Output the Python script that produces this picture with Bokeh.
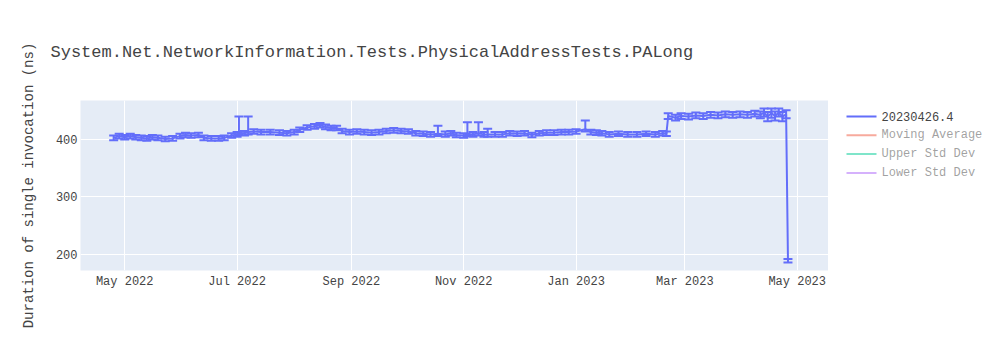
import pandas as pd
from bokeh.plotting import figure
from bokeh.layouts import row
from bokeh.core.properties import value
from bokeh.models import (ColumnDataSource, Range1d, FixedTicker, DatetimeTickFormatter,
                          Whisker, TeeHead)
from bokeh.embed import file_html
from bokeh.resources import INLINE

title_text = "System.Net.NetworkInformation.Tests.PhysicalAddressTests.PALong"
y_title = "Duration of single invocation (ns)"
series_names = ["20230426.4", "Moving Average", "Upper Std Dev", "Lower Std Dev"]
series_colors = ["#636efa", "#EF553B", "#00cc96", "#ab63fa"]
series_shown = [True, False, False, False]

dates = [
    "2022-04-25", "2022-04-28", "2022-05-01", "2022-05-04", "2022-05-07", "2022-05-10",
    "2022-05-13", "2022-05-16", "2022-05-19", "2022-05-23", "2022-05-27", "2022-05-31",
    "2022-06-03", "2022-06-06", "2022-06-10", "2022-06-13", "2022-06-17", "2022-06-21",
    "2022-06-24", "2022-06-28", "2022-07-01", "2022-07-02", "2022-07-05", "2022-07-07",
    "2022-07-10", "2022-07-14", "2022-07-19", "2022-07-24", "2022-07-28", "2022-08-01",
    "2022-08-04", "2022-08-08", "2022-08-12", "2022-08-15", "2022-08-18", "2022-08-21",
    "2022-08-24", "2022-08-27", "2022-08-31", "2022-09-04", "2022-09-08", "2022-09-12",
    "2022-09-16", "2022-09-20", "2022-09-24", "2022-09-28", "2022-10-02", "2022-10-06",
    "2022-10-10", "2022-10-14", "2022-10-18", "2022-10-22", "2022-10-25", "2022-10-28",
    "2022-11-01", "2022-11-03", "2022-11-06", "2022-11-09", "2022-11-12", "2022-11-14",
    "2022-11-18", "2022-11-22", "2022-11-26", "2022-11-30", "2022-12-04", "2022-12-08",
    "2022-12-12", "2022-12-16", "2022-12-20", "2022-12-24", "2022-12-28", "2023-01-01",
    "2023-01-06", "2023-01-09", "2023-01-12", "2023-01-15", "2023-01-19", "2023-01-24",
    "2023-01-29", "2023-02-03", "2023-02-08", "2023-02-13", "2023-02-17", "2023-02-19",
    "2023-02-20", "2023-02-24", "2023-02-27", "2023-03-03", "2023-03-07", "2023-03-11",
    "2023-03-15", "2023-03-19", "2023-03-23", "2023-03-27", "2023-03-31", "2023-04-04",
    "2023-04-08", "2023-04-11", "2023-04-13", "2023-04-15", "2023-04-17", "2023-04-19",
    "2023-04-21", "2023-04-23", "2023-04-25", "2023-04-26",
]
values = [
    403, 406, 404, 406, 404, 403,
    402, 404, 403, 401, 402, 406,
    408, 407, 408, 403, 402, 402,
    403, 407, 409, 412, 411, 413,
    414, 413, 413, 412, 411, 413,
    417, 421, 423, 425, 422, 420,
    420, 415, 413, 414, 413, 412,
    413, 415, 416, 415, 414, 411,
    410, 409, 410, 409, 411, 408,
    407, 410, 409, 411, 409, 409,
    409, 409, 411, 410, 411, 408,
    411, 412, 412, 413, 413, 414,
    418, 413, 412, 411, 409, 410,
    409, 409, 410, 409, 411, 410,
    441, 438, 441, 440, 442, 441,
    443, 442, 444, 443, 444, 443,
    445, 443, 447, 440, 446, 441,
    447, 440, 444, 189,
]
err_up = [
    4, 4, 4, 4, 4, 4,
    4, 4, 4, 4, 4, 4,
    4, 4, 4, 4, 4, 4,
    4, 4, 4, 28, 4, 27,
    4, 4, 4, 4, 4, 4,
    4, 4, 4, 4, 4, 4,
    4, 4, 4, 4, 4, 4,
    4, 4, 4, 4, 4, 4,
    4, 4, 14, 5, 4, 4,
    4, 20, 4, 19, 4, 10,
    4, 4, 4, 4, 4, 4,
    4, 4, 4, 4, 4, 4,
    15, 4, 4, 4, 4, 4,
    4, 4, 4, 4, 4, 4,
    5, 5, 5, 5, 5, 5,
    5, 5, 5, 5, 5, 5,
    5, 6, 7, 8, 8, 8,
    7, 8, 7, 3,
]
err_down = [
    4, 4, 4, 4, 4, 4,
    4, 4, 4, 4, 4, 4,
    4, 4, 4, 4, 4, 4,
    4, 4, 4, 4, 4, 4,
    4, 4, 4, 4, 4, 4,
    4, 4, 4, 4, 4, 4,
    4, 4, 4, 4, 4, 4,
    4, 4, 4, 4, 4, 4,
    4, 4, 4, 4, 4, 4,
    4, 4, 4, 4, 4, 4,
    4, 4, 4, 4, 4, 4,
    4, 4, 4, 4, 4, 4,
    4, 4, 4, 4, 4, 4,
    4, 4, 4, 4, 4, 4,
    5, 5, 5, 5, 5, 5,
    5, 5, 5, 5, 5, 5,
    5, 6, 7, 8, 8, 8,
    7, 8, 7, 3,
]
x_ticks = ["2022-05-01", "2022-07-01", "2022-09-01", "2022-11-01",
           "2023-01-01", "2023-03-01", "2023-05-01"]
y_ticks = [200, 300, 400]

FONT = "Liberation Mono"
TXT = "#444444"
BLUE = series_colors[0]

x = pd.to_datetime(dates)
src = ColumnDataSource(dict(
    x=x, y=values,
    upper=[v + e for v, e in zip(values, err_up)],
    lower=[v - e for v, e in zip(values, err_down)],
))

p = figure(width=828, height=350, x_axis_type="datetime", output_backend="svg",
           toolbar_location=None,
           x_range=Range1d(pd.Timestamp("2022-04-07"), pd.Timestamp("2023-05-18")),
           y_range=Range1d(172, 468),
           min_border_left=80, min_border_right=0, min_border_top=100, min_border_bottom=80)
p.background_fill_color = "#E5ECF6"
p.border_fill_color = "white"
p.outline_line_color = None

p.title.text = title_text
p.title.text_font = FONT
p.title.text_font_size = "17px"
p.title.text_font_style = "normal"
p.title.text_color = TXT
p.title.offset = -30
p.title.standoff = 78

p.line("x", "y", source=src, line_color=BLUE, line_width=2)
wh = Whisker(source=src, base="x", upper="upper", lower="lower",
             line_color=BLUE, line_width=2,
             upper_head=TeeHead(size=9, line_color=BLUE, line_width=2),
             lower_head=TeeHead(size=9, line_color=BLUE, line_width=2))
p.add_layout(wh)

for ax in (p.xaxis[0], p.yaxis[0]):
    ax.axis_line_color = None
    ax.major_tick_line_color = None
    ax.minor_tick_line_color = None
    ax.major_tick_out = 0
    ax.major_tick_in = 0
    ax.minor_tick_out = 0
    ax.minor_tick_in = 0
    ax.major_label_text_font = FONT
    ax.major_label_text_font_size = "12px"
    ax.major_label_text_color = TXT

p.xaxis.ticker = FixedTicker(ticks=[pd.Timestamp(t).value // 10**6 for t in x_ticks])
fmt = "%b %Y"
p.xaxis.formatter = DatetimeTickFormatter(years=fmt, months=fmt, days=fmt, hours=fmt,
                                          minutes=fmt, seconds=fmt, milliseconds=fmt)
p.xaxis.major_label_standoff = 4
p.yaxis.ticker = FixedTicker(ticks=y_ticks)
p.yaxis.major_label_standoff = 3
p.yaxis.axis_label = y_title
p.yaxis.axis_label_text_font = FONT
p.yaxis.axis_label_text_font_size = "14px"
p.yaxis.axis_label_text_font_style = "normal"
p.yaxis.axis_label_text_color = TXT
p.yaxis.axis_label_standoff = 16

p.xgrid.grid_line_color = "white"
p.ygrid.grid_line_color = "white"
p.xgrid.grid_line_width = 1
p.ygrid.grid_line_width = 1

# legend panel on the right; its frame is aligned with the main plot area (y 100..270),
# so a flipped range gives page-pixel units
LW = 172
leg = figure(width=LW, height=350, output_backend="svg", toolbar_location=None,
             x_range=Range1d(0, LW), y_range=Range1d(270, 100),
             x_axis_location=None, y_axis_location=None,
             min_border_left=0, min_border_right=0, min_border_top=100, min_border_bottom=80)
leg.grid.visible = False
leg.outline_line_color = None
leg.background_fill_color = "white"
leg.border_fill_color = "white"

top_y, step, x0, sw, gap = 116, 18.8, 18, 30, 5
rows = list(range(len(series_names)))
ys = [top_y + i * step for i in rows]
alphas = [1.0 if s else 0.5 for s in series_shown]
leg.segment(x0=[x0] * len(rows), x1=[x0 + sw] * len(rows), y0=ys, y1=ys,
            line_color=series_colors, line_width=2, line_alpha=alphas)
leg.text(x=[x0 + sw + gap] * len(rows), y=ys, text=series_names,
         text_font=value(FONT), text_font_size="12px", text_color=TXT,
         text_alpha=alphas, text_baseline="middle", text_align="left")

layout = row(p, leg, spacing=0)
open("out.html", "w").write(file_html(layout, INLINE))
